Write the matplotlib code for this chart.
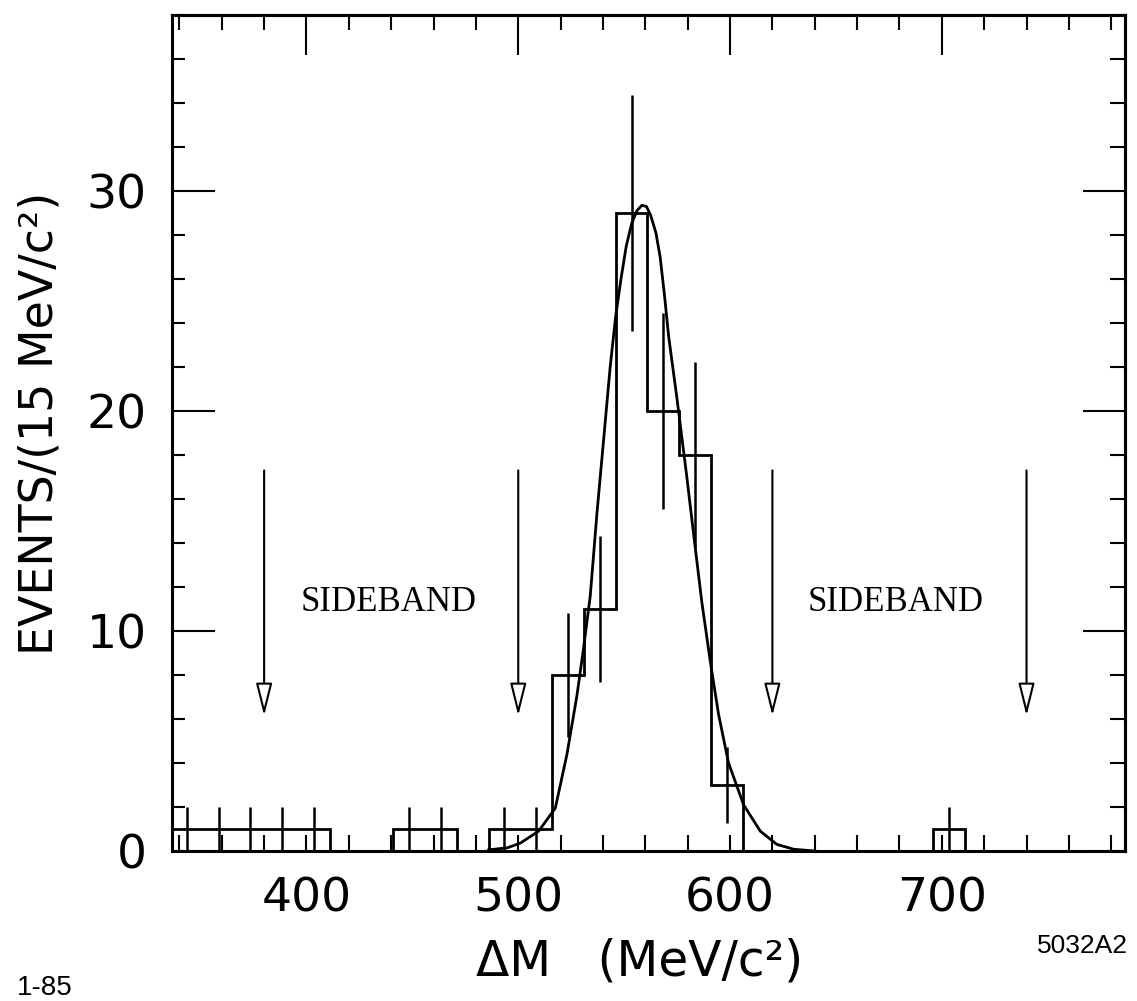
import matplotlib
matplotlib.use("Agg")
import matplotlib.pyplot as plt
import numpy as np
from matplotlib.ticker import MultipleLocator, FixedLocator, NullFormatter

# histogram: 15 MeV bins
bin_edges = [336, 351, 366, 381, 396, 411, 426, 441, 456, 471, 486, 501, 516,
             531, 546, 561, 576, 591, 606, 621, 636, 651, 666, 681, 696, 711,
             726, 741, 756, 771, 786]
counts = [1, 1, 1, 1, 1, 0, 0, 1, 1, 0, 1, 1, 8,
          11, 29, 20, 18, 3, 0, 0, 0, 0, 0, 0, 1, 0,
          0, 0, 0, 0]

# fitted curve
fit_mev = [486, 495, 501, 509.6, 517.5, 523, 527.7, 530.8, 534, 537.2, 540.5,
           543.4, 546, 548.5, 551, 553.5, 556, 558.4, 560.5, 562.5, 565, 567,
           569, 571, 574.9, 579.6, 582.8, 586.7, 590.7, 594.6, 599.3, 606.4,
           614.3, 622.1, 630, 640]
fit_val = [0.05, 0.15, 0.36, 0.9, 1.95, 4.4, 7.06, 9.2, 11.6, 15.4, 18.9,
           22.0, 24.3, 26.0, 27.5, 28.5, 29.1, 29.35, 29.3, 28.9, 28.1, 27.0,
           25.3, 23.4, 20.6, 17.0, 14.4, 11.3, 8.6, 6.2, 4.0, 2.1,
           0.9, 0.3, 0.08, 0.0]

# sideband boundaries
arrow_mev = [380, 500, 620, 740]
arrow_top, arrow_tip = 17.3, 6.15
sideband_labels = [(439, "SIDEBAND"), (678, "SIDEBAND")]

x_ticks = [400, 500, 600, 700]
y_ticks = [0, 10, 20, 30]

fig = plt.figure(figsize=(11.37, 10.01), dpi=100)
W, H = 1137, 1001
ax = fig.add_axes([172 / W, 1 - 851 / H, (1125 - 172) / W, (851 - 15) / H])
ax.set_xlim(336.5, 786.5)
ax.set_ylim(0, 38)

# histogram outline and error bars
ax.stairs(counts, bin_edges, color='black', linewidth=2.0)
lo = np.array(bin_edges[:-1])
hi = np.array(bin_edges[1:])
n = np.array(counts, dtype=float)
keep = n > 0
centers = (lo + hi)[keep] / 2
ax.vlines(centers, n[keep] - np.sqrt(n[keep]), n[keep] + np.sqrt(n[keep]),
          color='black', linewidth=1.8)

# fit curve
ax.plot(fit_mev, fit_val, color='black', linewidth=2.0)

# sideband arrows
for xa in arrow_mev:
    ax.annotate('', xy=(xa, arrow_tip), xytext=(xa, arrow_top),
                arrowprops=dict(arrowstyle='-|>,head_length=1.0,head_width=0.25',
                                mutation_scale=20, fc='white', ec='black',
                                lw=1.5, shrinkA=0, shrinkB=0))
for xs, txt in sideband_labels:
    ax.text(xs, 10.9, txt, ha='center', va='baseline', fontsize=25,
            family='Liberation Serif')

# frame and ticks
for sp in ax.spines.values():
    sp.set_linewidth(2.2)

ax.xaxis.set_major_locator(FixedLocator(x_ticks))
ax.xaxis.set_minor_locator(MultipleLocator(20))
ax.yaxis.set_major_locator(FixedLocator(y_ticks))
ax.yaxis.set_minor_locator(MultipleLocator(2))
ax.tick_params(axis='x', which='both', direction='in', length=11.5, width=1.5,
               top=False, labelsize=34, pad=18)
ax.tick_params(axis='y', which='major', direction='in', length=31, width=1.5,
               right=False, labelsize=34, pad=18)
ax.tick_params(axis='y', which='minor', direction='in', length=9, width=1.5,
               right=False)

top = ax.secondary_xaxis('top')
top.xaxis.set_major_locator(FixedLocator(x_ticks))
top.xaxis.set_minor_locator(MultipleLocator(20))
top.xaxis.set_major_formatter(NullFormatter())
top.tick_params(which='major', direction='in', length=29, width=1.5)
top.tick_params(which='minor', direction='in', length=11, width=1.5)
top.spines['top'].set_linewidth(2.2)

right = ax.secondary_yaxis('right')
right.yaxis.set_major_locator(FixedLocator(y_ticks))
right.yaxis.set_minor_locator(MultipleLocator(2))
right.yaxis.set_major_formatter(NullFormatter())
right.tick_params(which='major', direction='in', length=30, width=1.5)
right.tick_params(which='minor', direction='in', length=11, width=1.5)
right.spines['right'].set_linewidth(2.2)

# axis titles and corner notes
fig.text(40 / W, 1 - 423 / H, 'EVENTS/(15 MeV/c²)', rotation=90,
         ha='center', va='center', fontsize=33)
fig.text(640 / W, 1 - 975 / H, 'ΔM   (MeV/c²)', ha='center', va='baseline',
         fontsize=35)
fig.text(17 / W, 1 - 995 / H, '1-85', ha='left', va='baseline', fontsize=20,
         family='Liberation Sans')
fig.text(1128 / W, 1 - 953 / H, '5032A2', ha='right', va='baseline', fontsize=19,
         family='Liberation Sans')

fig.savefig('out.png', dpi=100)
